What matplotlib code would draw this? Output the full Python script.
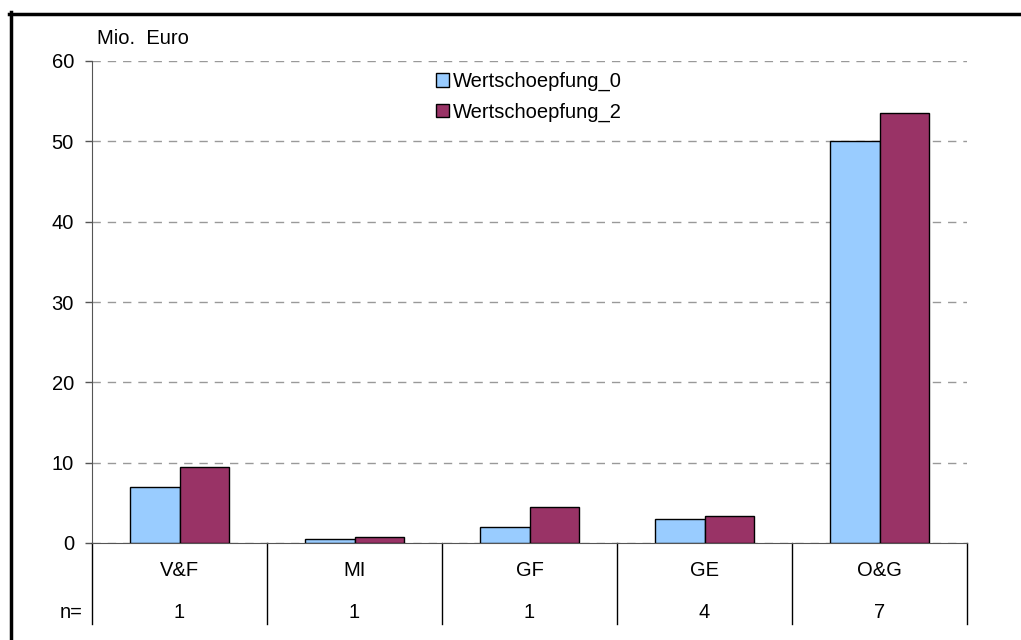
import matplotlib.pyplot as plt
import numpy as np
from matplotlib.patches import Rectangle
from matplotlib.lines import Line2D

plt.rcParams["font.family"] = ["Liberation Sans", "DejaVu Sans"]

categories = ["V&F", "MI", "GF", "GE", "O&G"]
n_counts = ["1", "1", "1", "4", "7"]
wert_0 = [7.0, 0.5, 2.0, 3.0, 50.0]
wert_2 = [9.4, 0.7, 4.5, 3.3, 53.5]
series_names = ["Wertschoepfung_0", "Wertschoepfung_2"]
colors = ["#99CCFF", "#993366"]

FS = 14.5
W, H = 1021, 640
fig = plt.figure(figsize=(W / 100, H / 100), dpi=100)

# plot area in pixel coords
x0, x1, y0, y1 = 92, 967, 543, 61
ax = fig.add_axes([x0 / W, 1 - y0 / H, (x1 - x0) / W, (y0 - y1) / H])

x = np.arange(len(categories))
bw = 0.2857
ax.bar(x - bw / 2, wert_0, bw, color=colors[0], edgecolor="black", linewidth=1, zorder=3)
ax.bar(x + bw / 2, wert_2, bw, color=colors[1], edgecolor="black", linewidth=1, zorder=3)

ax.set_xlim(-0.5, len(categories) - 0.5)
ax.set_ylim(0, 60)
ax.set_yticks(range(0, 61, 10))
ax.tick_params(axis="y", length=5, width=1, color="#555555", labelsize=FS, pad=8)
ax.set_xticks([])
ax.yaxis.grid(True, linestyle=(0, (6, 5)), color="#999999", linewidth=1, zorder=0)

for s in ["top", "right"]:
    ax.spines[s].set_visible(False)
ax.spines["left"].set_color("#555555")
ax.spines["bottom"].set_color("#555555")

# data table below the axis
ax_h = y0 - y1
tbl_bottom = -(624 - y0) / ax_h
cat_y = -(571 - y0) / ax_h
n_y = -(612 - y0) / ax_h
trans = ax.get_xaxis_transform()
for b in np.arange(-0.5, len(categories), 1.0):
    ax.plot([b, b], [0, tbl_bottom], color="black", linewidth=1,
            transform=trans, clip_on=False)
for i, (c, n) in enumerate(zip(categories, n_counts)):
    ax.text(i, cat_y, c, transform=trans, ha="center", va="center", fontsize=FS)
    ax.text(i, n_y, n, transform=trans, ha="center", va="center", fontsize=FS)
ax.text(-0.5 - 9 / 175, n_y, "n=", transform=trans, ha="right", va="center", fontsize=FS)

fig.text(97 / W, 1 - 38 / H, "Mio.  Euro", ha="left", va="center", fontsize=FS)

handles = [Rectangle((0, 0), 1, 1, facecolor=c, edgecolor="black", linewidth=1) for c in colors]
fig.legend(handles, series_names, loc="upper left", bbox_to_anchor=(428 / W, 1 - 64 / H),
           frameon=False, fontsize=FS, handlelength=0.65, handleheight=0.65,
           handletextpad=0.2, labelspacing=0.55, borderaxespad=0)

# outer frame (left and top edge)
fig.add_artist(Line2D([10.5 / W, 10.5 / W], [0, 1 - 12 / H], color="black", linewidth=2.5))
fig.add_artist(Line2D([9 / W, 1], [1 - 13.5 / H, 1 - 13.5 / H], color="black", linewidth=2.5))

fig.savefig("out.png", dpi=100)
